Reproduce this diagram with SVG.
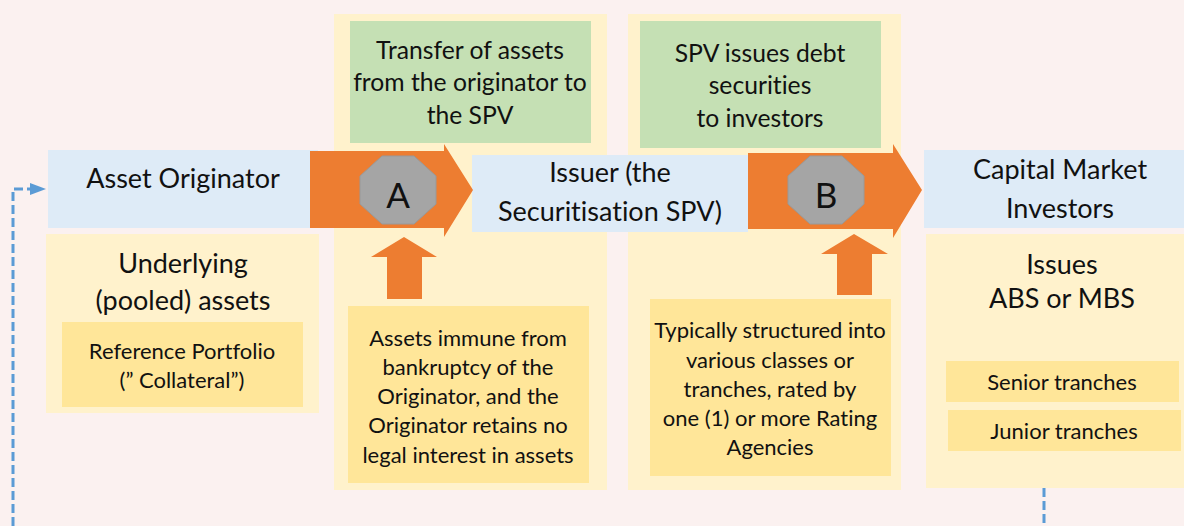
<svg xmlns="http://www.w3.org/2000/svg" width="1184" height="526" viewBox="0 0 1184 526">
<defs>
<style>
text{font-family:Lato,"Noto Sans",sans-serif;fill:#111;text-anchor:middle;font-variant-ligatures:none}
.big{font-size:27px}
.grn{font-size:24.7px}
.mid{font-size:22px}
.blue{fill:#DEEBF7}
.panel{fill:#FFF2CC}
.ybox{fill:#FFE699}
.green{fill:#C5E0B4}
.orange{fill:#ED7D31}
.oct{fill:#A5A5A5;stroke:#999;stroke-width:1}
.dash{fill:none;stroke:#5B9BD5;stroke-width:3;stroke-dasharray:9 4}
</style>
</defs>
<rect width="1184" height="526" fill="#FBF1F0"/>

<g id="panelA"><rect class="panel" x="334" y="14" width="273" height="476"/></g>
<g id="panelB"><rect class="panel" x="628" y="14" width="273" height="476"/></g>

<g id="transfer">
<rect class="green" x="350" y="21" width="241" height="122"/>
<text class="grn" x="470" y="59">Transfer of assets</text>
<text class="grn" x="470" y="91">from the originator to</text>
<text class="grn" x="470" y="124">the SPV</text>
</g>

<g id="spvissues">
<rect class="green" x="640" y="21" width="241" height="127"/>
<text class="grn" x="760" y="62">SPV issues debt</text>
<text class="grn" x="760" y="94">securities</text>
<text class="grn" x="760" y="127">to investors</text>
</g>

<g id="originator">
<rect class="blue" x="48" y="150" width="270" height="78"/>
<text class="big" x="183" y="188">Asset Originator</text>
</g>

<g id="underlying">
<rect class="panel" x="46" y="234" width="273" height="179"/>
<text class="big" x="183" y="273">Underlying</text>
<text class="big" x="183" y="310">(pooled) assets</text>
<rect class="ybox" x="62" y="322" width="241" height="85"/>
<text class="mid" x="182" y="359">Reference Portfolio</text>
<text class="mid" x="182" y="388">(” Collateral”)</text>
</g>

<g id="issuer">
<rect class="blue" x="472" y="155" width="276" height="77"/>
<text class="big" x="610" y="182">Issuer (the</text>
<text class="big" x="610" y="221">Securitisation SPV)</text>
</g>

<g id="investors">
<rect class="blue" x="924" y="150" width="260" height="78"/>
<text class="big" x="1060" y="179">Capital Market</text>
<text class="big" x="1060" y="218">Investors</text>
</g>

<g id="issuesabs">
<rect class="panel" x="926" y="234" width="258" height="254"/>
<text class="big" x="1062" y="274">Issues</text>
<text class="big" x="1062" y="308">ABS or MBS</text>
<rect class="ybox" x="946" y="361" width="233" height="41"/>
<text class="mid" x="1062" y="390">Senior tranches</text>
<rect class="ybox" x="948" y="410" width="233" height="41"/>
<text class="mid" x="1064" y="439">Junior tranches</text>
</g>

<g id="arrowA">
<polygon class="orange" points="310,151 444,151 444,144 473,190 444,237 444,228 310,228"/>
<polygon class="oct" points="382,156 414,156 436,176 436,204 414,224 382,224 360,204 360,176"/>
<text x="398" y="208" style="font-size:35px">A</text>
</g>

<g id="arrowB">
<polygon class="orange" points="748,153 893,153 893,144 922,190 893,238 893,229 748,229"/>
<polygon class="oct" points="810,156 842,156 864,176 864,204 842,224 810,224 788,204 788,176"/>
<text x="826" y="208" style="font-size:35px">B</text>
</g>

<g id="immune">
<polygon class="orange" points="404,237 437,257 422,257 422,299 387,299 387,257 371,257"/>
<rect class="ybox" x="348" y="306" width="241" height="177"/>
<text class="mid" x="468" y="346">Assets immune from</text>
<text class="mid" x="468" y="375">bankruptcy of the</text>
<text class="mid" x="468" y="404">Originator, and the</text>
<text class="mid" x="468" y="433">Originator retains no</text>
<text class="mid" x="468" y="463">legal interest in assets</text>
</g>

<g id="structured">
<polygon class="orange" points="854,234 888,254 872,254 872,295 837,295 837,254 821,254"/>
<rect class="ybox" x="650" y="299" width="241" height="177"/>
<text class="mid" x="770" y="338">Typically structured into</text>
<text class="mid" x="770" y="368">various classes or</text>
<text class="mid" x="770" y="397">tranches, rated by</text>
<text class="mid" x="770" y="426">one (1) or more Rating</text>
<text class="mid" x="770" y="455">Agencies</text>
</g>

<g id="connectors">
<path class="dash" d="M13,526 L13,189 L30,189"/>
<polygon points="30,183 46,189 30,195" fill="#5B9BD5"/>
<path class="dash" d="M1044,488 L1044,526"/>
</g>
</svg>
